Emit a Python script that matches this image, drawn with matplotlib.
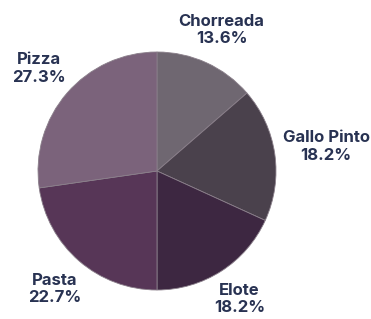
import matplotlib
matplotlib.use("Agg")
import matplotlib.pyplot as plt
import numpy as np

categories = ["Chorreada", "Gallo Pinto", "Elote", "Pasta", "Pizza"]
values = [3, 4, 4, 5, 6]
colors = ["#6f6771", "#4a414c", "#3d2741", "#573657", "#7b637b"]
label_dist = [1.305, 1.435, 1.28, 1.31, 1.317]

plt.rcParams['font.family'] = ['Inter', 'DejaVu Sans']

W, H = 371, 319
fig = plt.figure(figsize=(W / 100, H / 100), dpi=100)
ax = fig.add_axes([0, 0, 1, 1])

cx, cy, r = 157, H - 171, 119
wedges, _ = ax.pie(values, colors=colors, startangle=90, counterclock=False,
                   center=(cx, cy), radius=r, frame=True,
                   wedgeprops=dict(linewidth=0.6, edgecolor="#8a7f8a"))
ax.set_xlim(0, W)
ax.set_ylim(0, H)
ax.set_aspect('equal')
ax.axis('off')

total = sum(values)
for w, cat, v, d in zip(wedges, categories, values, label_dist):
    ang = np.deg2rad((w.theta1 + w.theta2) / 2)
    x = cx + d * r * np.cos(ang)
    y = cy + d * r * np.sin(ang)
    ax.text(x, y, f"{cat}\n{v / total * 100:.1f}%", ha="center", va="center",
            fontsize=12, fontweight="bold", color="#283252", linespacing=1.2)

fig.savefig("out.png", dpi=100)
